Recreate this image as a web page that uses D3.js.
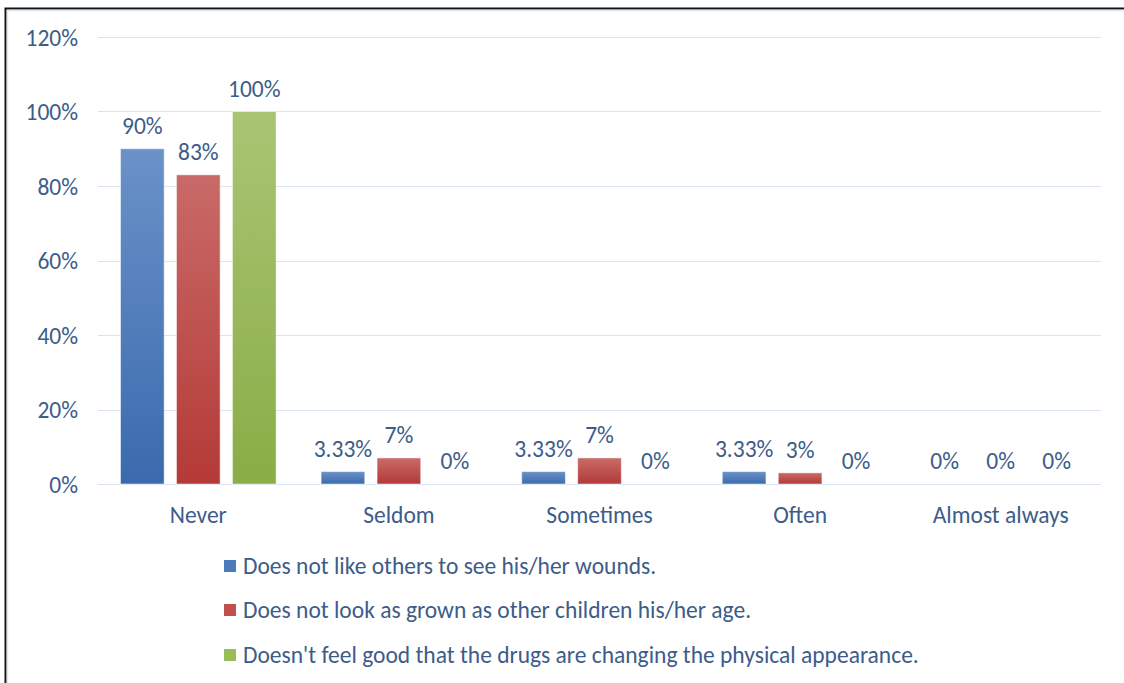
<!DOCTYPE html>
<html><head><meta charset="utf-8">
<script src="https://cdn.jsdelivr.net/npm/d3@7"></script>
<style>
html,body{margin:0;padding:0;background:#fff;}
svg{display:block;}
text{font-family:Carlito, Calibri, Lato, "Open Sans", sans-serif;}
</style></head>
<body>
<script>
const categories = ["Never", "Seldom", "Sometimes", "Often", "Almost always"];
const seriesNames = [
  "Does not like others to see his/her wounds.",
  "Does not look as grown as other children his/her age.",
  "Doesn't feel good that the drugs are changing the physical appearance."
];
const seriesA = [90, 3.33, 3.33, 3.33, 0];
const seriesB = [83, 7, 7, 3, 0];
const seriesC = [100, 0, 0, 0, 0];
const labelsA = ["90%", "3.33%", "3.33%", "3.33%", "0%"];
const labelsB = ["83%", "7%", "7%", "3%", "0%"];
const labelsC = ["100%", "0%", "0%", "0%", "0%"];
const yTicks = [0, 20, 40, 60, 80, 100, 120];

const W = 1124, H = 683;
const FS = "23.5px";
const textColor = "#3d5c89";
const gradStops = [
  ["#6b92c8", "#3a6aae"],
  ["#c96a68", "#b43a37"],
  ["#a9c574", "#8aad46"]
];
const legendColors = ["#4a7bbd", "#c0504d", "#9bbb59"];

const svg = d3.select("body").append("svg").attr("width", W).attr("height", H);

// border
svg.append("rect").attr("x", 5.5).attr("y", 8.5).attr("width", W + 10).attr("height", H + 10)
  .attr("fill", "#fff").attr("stroke", "#111").attr("stroke-width", 2);
svg.append("line").attr("x1", 7.5).attr("x2", 7.5).attr("y1", 10).attr("y2", H)
  .attr("stroke", "#dde6f3").attr("stroke-width", 1.5);
svg.append("line").attr("x1", 7).attr("x2", W).attr("y1", 10.5).attr("y2", 10.5)
  .attr("stroke", "#dde6f3").attr("stroke-width", 1.5);

const defs = svg.append("defs");
gradStops.forEach((g, i) => {
  const lg = defs.append("linearGradient").attr("id", "g" + i)
    .attr("x1", 0).attr("y1", 0).attr("x2", 0).attr("y2", 1);
  lg.append("stop").attr("offset", "0%").attr("stop-color", g[0]);
  lg.append("stop").attr("offset", "100%").attr("stop-color", g[1]);
});

const x0 = d3.scaleBand().domain(categories).range([98, 1101]).paddingInner(0).paddingOuter(0);
const y = d3.scaleLinear().domain([0, 120]).range([484, 37]);
const x1 = d3.scaleBand().domain([0, 1, 2]).range([22.5, x0.bandwidth() - 22.5]).paddingInner(0.22).paddingOuter(0);

// gridlines
svg.append("g").selectAll("line").data(yTicks).join("line")
  .attr("x1", 98).attr("x2", 1101)
  .attr("y1", d => Math.round(y(d)) + 0.5).attr("y2", d => Math.round(y(d)) + 0.5)
  .attr("stroke", "#d9e3f1").attr("stroke-width", 1.2);

// y axis labels
const yAxis = d3.axisLeft(y).tickValues(yTicks).tickFormat(d => d + "%").tickSize(0).tickPadding(0);
const ya = svg.append("g").attr("transform", "translate(78,0)").call(yAxis);
ya.select(".domain").remove();
ya.selectAll("text").attr("fill", textColor).style("font-size", FS)
  .style("font-family", "Carlito, Calibri, Lato, sans-serif").attr("dy", "0.35em");

// x axis labels
const xAxis = d3.axisBottom(x0).tickSize(0).tickPadding(0);
const xa = svg.append("g").attr("transform", "translate(0,515)").call(xAxis);
xa.select(".domain").remove();
xa.selectAll("text").attr("fill", textColor).style("font-size", FS)
  .style("font-family", "Carlito, Calibri, Lato, sans-serif").attr("dy", "0.35em");

const series = [seriesA, seriesB, seriesC];
const labels = [labelsA, labelsB, labelsC];

series.forEach((vals, si) => {
  const g = svg.append("g");
  g.selectAll("rect").data(vals).join("rect")
    .attr("x", (d, i) => x0(categories[i]) + x1(si))
    .attr("y", d => y(d))
    .attr("width", x1.bandwidth())
    .attr("height", d => y(0) - y(d))
    .attr("fill", "url(#g" + si + ")")
    .attr("stroke", "#ffffff").attr("stroke-opacity", 0.5).attr("stroke-width", 1);
  g.selectAll("text").data(vals).join("text")
    .attr("x", (d, i) => x0(categories[i]) + x1(si) + x1.bandwidth() / 2)
    .attr("y", d => y(d) - 23)
    .attr("dy", "0.35em")
    .attr("text-anchor", "middle")
    .attr("fill", textColor)
    .style("font-size", FS)
    .text((d, i) => labels[si][i]);
});

// legend
const legY = [566, 610, 655];
seriesNames.forEach((name, i) => {
  svg.append("rect").attr("x", 224).attr("y", legY[i] - 6).attr("width", 12).attr("height", 12)
    .attr("fill", legendColors[i]);
  svg.append("text").attr("x", 243).attr("y", legY[i]).attr("dy", "0.35em")
    .attr("fill", textColor).style("font-size", FS).text(name);
});
</script>
</body></html>
